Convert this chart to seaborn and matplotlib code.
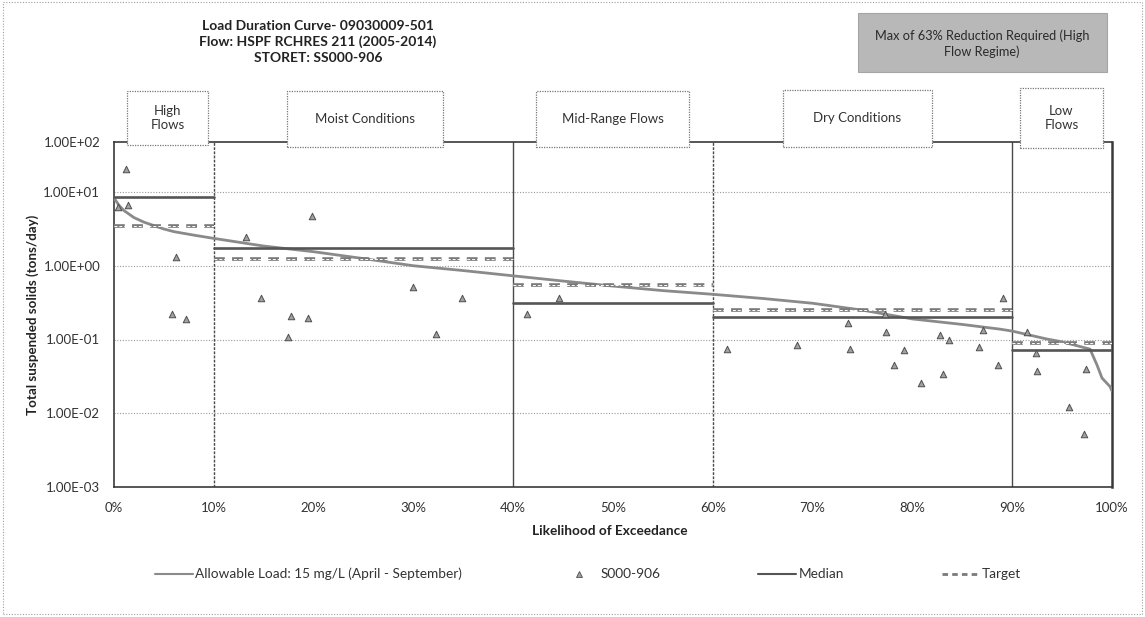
import numpy as np
import pandas as pd
import matplotlib
matplotlib.use("Agg")
import matplotlib.pyplot as plt
from matplotlib.patches import Rectangle
from matplotlib.lines import Line2D
import seaborn as sns

# ---------------- data ----------------
curve_pct = [0, 0.5, 1, 2, 3, 4, 5, 6, 8, 10, 15, 20, 25, 30, 35, 40, 45, 50, 55, 60,
             65, 70, 75, 80, 85, 88.8, 90, 93.4, 95, 97.8, 98.5, 99, 99.8, 100]
curve_load = [8.3, 6.6, 5.6, 4.5, 3.9, 3.5, 3.15, 2.9, 2.6, 2.35, 1.85, 1.55, 1.25, 1.0, 0.86,
              0.73, 0.62, 0.53, 0.46, 0.41, 0.36, 0.31, 0.25, 0.19, 0.16, 0.138, 0.13,
              0.102, 0.093, 0.074, 0.045, 0.03, 0.023, 0.02]

obs_pct = [0.4, 1.2, 1.4, 5.8, 6.2, 7.2, 13.2, 14.7, 17.4, 17.7, 19.4, 19.8, 30.0, 32.3,
           34.9, 41.4, 44.6, 61.4, 68.4, 73.5, 73.7, 77.3, 77.4, 78.2, 79.2, 80.9, 82.8,
           83.1, 83.7, 86.7, 87.1, 88.6, 89.1, 91.5, 92.4, 92.5, 95.7, 97.2, 97.4]
obs_load = [6.2, 20.3, 6.6, 0.22, 1.33, 0.19, 2.45, 0.37, 0.108, 0.21, 0.195, 4.7, 0.52, 0.119,
            0.37, 0.22, 0.37, 0.075, 0.085, 0.166, 0.074, 0.22, 0.125, 0.045, 0.071, 0.026, 0.114,
            0.034, 0.099, 0.078, 0.134, 0.045, 0.37, 0.128, 0.066, 0.037, 0.012, 0.0053, 0.040]

regime_names = ["High\nFlows", "Moist Conditions", "Mid-Range Flows", "Dry Conditions", "Low\nFlows"]
regime_bounds = [0, 10, 40, 60, 90, 100]
median_load = [8.6, 1.74, 0.31, 0.20, 0.072]
target_load = [3.5, 1.22, 0.54, 0.25, 0.089]

y_tick_vals = [1e-3, 1e-2, 1e-1, 1e0, 1e1]
y_tick_labels = ["1.00E-03", "1.00E-02", "1.00E-01", "1.00E+00", "1.00E+01"]
top_label = "1.00E+02"
x_tick_vals = [0, 10, 20, 30, 40, 50, 60, 70, 80, 90, 100]
x_tick_labels = [f"{v}%" for v in x_tick_vals]

title_lines = "Load Duration Curve- 09030009-501\nFlow: HSPF RCHRES 211 (2005-2014)\nSTORET: SS000-906"
note_text = "Max of 63% Reduction Required (High\nFlow Regime)"

# ---------------- style ----------------
sns.set_theme(style="white")
plt.rcParams["font.family"] = ["Lato", "DejaVu Sans"]

W, H = 1145, 617
fig = plt.figure(figsize=(W / 100, H / 100), dpi=100)
x0, x1, yT, yB = 114, 1112, 142, 487
ax = fig.add_axes([x0 / W, 1 - yB / H, (x1 - x0) / W, (yB - yT) / H])

def px2ax(px, py):
    return (px - x0) / (x1 - x0), (yB - py) / (yB - yT)

# top of axis as drawn in the reference (top line labelled 1.00E+02)
ytop = 10 ** (1 + (192 - 142) / 73.75)
ax.set_yscale("log")
ax.set_ylim(1e-3, ytop)
ax.set_xlim(0, 100)

# gridlines
for v in y_tick_vals[1:]:
    ax.axhline(v, color="#9a9a9a", lw=0.8, ls=(0, (1, 1.5)), zorder=1)
bound_styles = {10: (0, (2, 1)), 40: "-", 60: (0, (2, 1)), 90: "-"}
for b in regime_bounds[1:-1]:
    ax.axvline(b, color="#4a4a4a", lw=1.0, ls=bound_styles[b], zorder=1)

# allowable load curve
curve_df = pd.DataFrame({"pct": curve_pct, "load": curve_load})
sns.lineplot(data=curve_df, x="pct", y="load", ax=ax, color="#8a8a8a", lw=2.0,
             zorder=3, legend=False)

# median and target per regime
for i in range(len(median_load)):
    seg = pd.DataFrame({"pct": [regime_bounds[i], regime_bounds[i + 1]],
                        "med": [median_load[i]] * 2, "tgt": [target_load[i]] * 2})
    sns.lineplot(data=seg, x="pct", y="med", ax=ax, color="#555555", lw=1.9, zorder=4,
                 legend=False)
    sns.lineplot(data=seg, x="pct", y="tgt", ax=ax, color="#7a7a7a", lw=2.6, zorder=4,
                 legend=False, linestyle=(0, (3, 2)))
    sns.lineplot(data=seg, x="pct", y="tgt", ax=ax, color="white", lw=0.7, zorder=4.5,
                 legend=False, linestyle=(0, (3, 2)))

# observed points
obs_df = pd.DataFrame({"pct": obs_pct, "load": obs_load})
sns.scatterplot(data=obs_df, x="pct", y="load", ax=ax, marker="^", s=22,
                color="#a0a0a0", edgecolor="#4f4f4f", linewidth=0.7, zorder=5, legend=False)

# ticks
ax.set_yticks(y_tick_vals + [ytop])
ax.set_yticklabels(y_tick_labels + [top_label])
ax.yaxis.set_minor_locator(matplotlib.ticker.NullLocator())
ax.set_xticks(x_tick_vals)
ax.set_xticklabels(x_tick_labels)
ax.tick_params(axis="both", labelsize=9.5, colors="#333333", length=0)
ax.tick_params(axis="x", pad=11)
ax.tick_params(axis="y", pad=10)
ax.set_xlabel("")
ax.set_ylabel("")
for s in ax.spines.values():
    s.set_color("#3a3a3a")
    s.set_linewidth(1.2)
ax.spines["right"].set_linewidth(1.8)

# regime boxes above the plot
boxes = [(127, 208, 91, 145), (287, 443, 91, 147), (536, 689, 91, 147),
         (783, 932, 90, 147), (1020, 1103, 88, 148)]
for name, (bx0, bx1, by0, by1) in zip(regime_names, boxes):
    ax0, ay0 = px2ax(bx0, by1)
    ax1_, ay1 = px2ax(bx1, by0)
    r = Rectangle((ax0, ay0), ax1_ - ax0, ay1 - ay0, transform=ax.transAxes,
                  facecolor="white", edgecolor="#777777", lw=0.9, ls=(0, (1, 1)),
                  clip_on=False, zorder=10)
    ax.add_patch(r)
    ax.text((ax0 + ax1_) / 2, (ay0 + ay1) / 2, name, transform=ax.transAxes,
            ha="center", va="center", fontsize=9.5, color="#333333", zorder=11,
            linespacing=1.25)

# title
fig.text(318 / W, 1 - 42 / H, title_lines, ha="center", va="center", fontsize=10,
         fontweight="bold", color="#222222", linespacing=1.38)

# gray note box
nb = Rectangle((858 / W, 1 - 72 / H), (1107 - 858) / W, (72 - 13) / H,
               transform=fig.transFigure, facecolor="#b8b8b8", edgecolor="#a5a5a5",
               lw=0.8, zorder=1)
fig.patches.append(nb)
fig.text(982 / W, 1 - 44 / H, note_text, ha="center", va="center", fontsize=9.2,
         color="#2a2a2a", linespacing=1.3)

# axis labels
fig.text(33 / W, 1 - 315 / H, "Total suspended solids (tons/day)", rotation=90,
         ha="center", va="center", fontsize=9.6, fontweight="bold", color="#222222")
fig.text(610 / W, 1 - 531 / H, "Likelihood of Exceedance", ha="center", va="center",
         fontsize=9.8, fontweight="bold", color="#222222")

# legend
handles = [
    Line2D([], [], color="#8a8a8a", lw=1.5),
    Line2D([], [], color="#a0a0a0", marker="^", ls="none", markersize=4,
           markeredgecolor="#4f4f4f", markeredgewidth=0.6),
    Line2D([], [], color="#555555", lw=1.5),
    Line2D([], [], color="#7a7a7a", lw=2.0, ls=(0, (2, 1.5))),
]
labels = ["Allowable Load: 15 mg/L (April - September)", "S000-906", "Median", "Target"]
fig.legend(handles, labels, loc="center", bbox_to_anchor=(588 / W, 1 - 574 / H), ncol=4,
           frameon=False, fontsize=9.8, handlelength=2.8, handletextpad=0.15,
           columnspacing=7.2, labelcolor="#333333")

# outer dotted border
border = Rectangle((3 / W, 3 / H), (W - 6) / W, (H - 5) / H, transform=fig.transFigure,
                   fill=False, edgecolor="#a0a0a0", lw=0.8, ls=(0, (1, 1.5)))
fig.patches.append(border)

fig.savefig("out.png", dpi=100)
